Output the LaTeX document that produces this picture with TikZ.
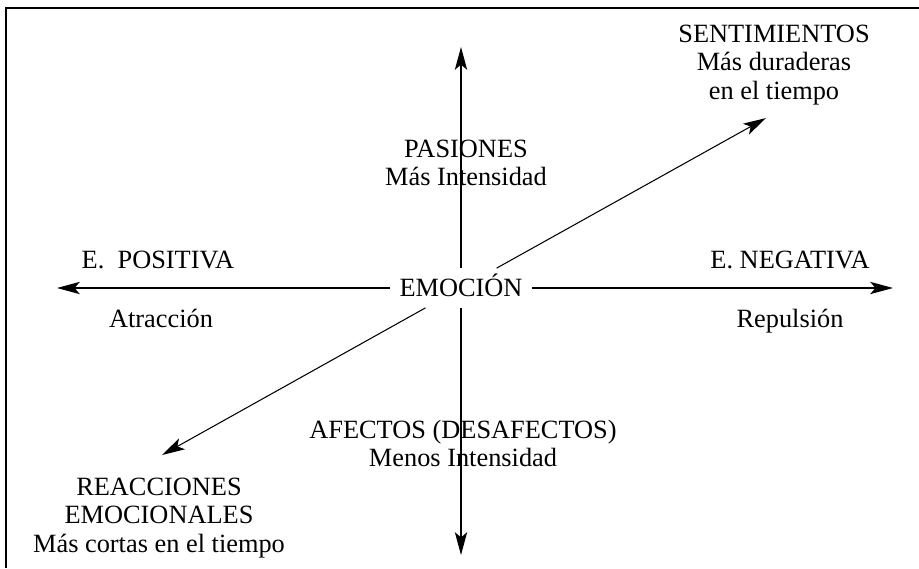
\documentclass[tikz,border=0pt]{standalone}
\usepackage{fontspec}
\setmainfont{Liberation Serif}
\usetikzlibrary{arrows.meta}
\tikzset{
  etiq/.style={align=center,font=\fontsize{15}{16}\selectfont,inner sep=0pt},
  flecha/.style={line width=0.6pt,-{Stealth[length=13pt,width=7pt,inset=3pt]}},
}

\begin{document}
\begin{tikzpicture}[x=0.02cm,y=-0.02cm]
\useasboundingbox (0,0) rectangle (919,568);
\draw [line width=0.9pt] (919,8) -- (6,8) -- (6,568);
% centro
\node [etiq,minimum height=0.78cm,inner xsep=5pt,text height=10pt,text depth=0pt] (emo) at (461,288) {EMOCIÓN};
% puntas de flecha
\coordinate (izq) at (57,288);
\coordinate (der) at (893,288);
\coordinate (arr) at (461,47);
\coordinate (aba) at (461,555);
\coordinate (ne) at (766,118);
\coordinate (so) at (162,455);
\draw [flecha] (emo) -- (izq);
\draw [flecha] (emo) -- (der);
\draw [flecha] (emo) -- (arr);
\draw [flecha] (emo) -- (aba);
\draw [flecha] (emo) -- (ne);
\draw [flecha] (emo) -- (so);
% textos
\node [etiq,anchor=north] (sent) at (774,25) {SENTIMIENTOS\\Más duraderas\\en el tiempo};
\node [etiq,anchor=north] (pas) at (466,140) {PASIONES\\Más Intensidad};
\node [etiq,anchor=base] (pos) at (158,268) {E.~~POSITIVA};
\node [etiq,anchor=base] (atr) at (161,327) {Atracción};
\node [etiq,anchor=base] (neg) at (790,268) {E. NEGATIVA};
\node [etiq,anchor=base] (rep) at (790,327) {Repulsión};
\node [etiq,anchor=north] (afe) at (463,420) {AFECTOS (DESAFECTOS)\\Menos Intensidad};
\node [etiq,anchor=north] (rea) at (159,478) {REACCIONES\\EMOCIONALES\\Más cortas en el tiempo};
\end{tikzpicture}
\end{document}
